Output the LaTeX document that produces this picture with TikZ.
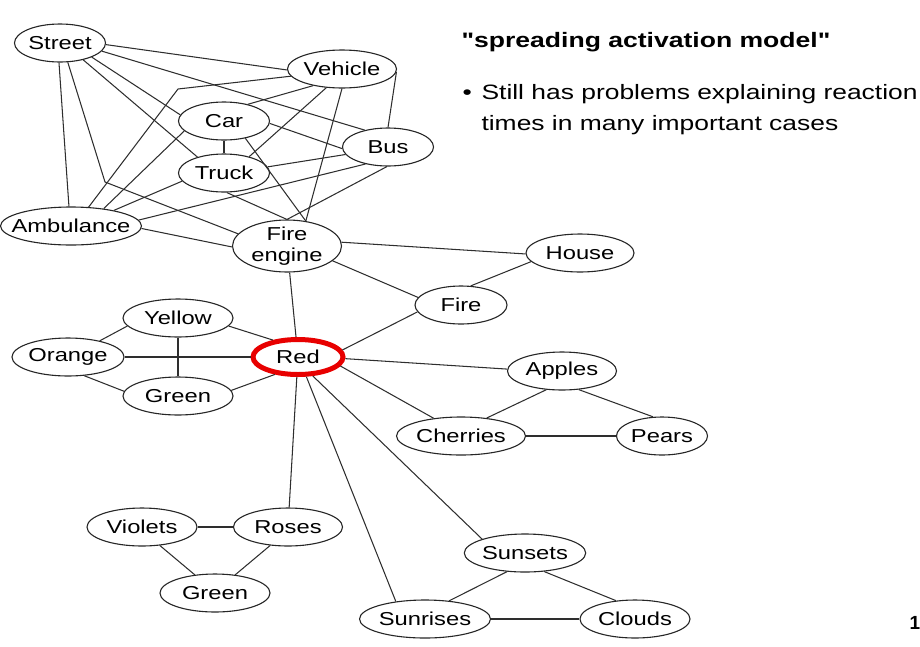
\documentclass[tikz,border=0pt]{standalone}
\usepackage{fontspec}
\setmainfont{Liberation Sans}
\newfontfamily\widefont{Liberation Sans}[FakeStretch=1.27]
\usepackage{xcolor}
\usetikzlibrary{shapes.geometric}
\definecolor{focusred}{RGB}{232,0,0}

\begin{document}
\begin{tikzpicture}[
  x=1pt, y=-1pt,
  concept/.style={ellipse, draw=black!85, line width=1.1pt, fill=white,
    inner sep=0pt, minimum height=38pt, minimum width=#1, align=center,
    font=\widefont\fontsize{18.7}{21}\selectfont},
  concept/.default=110pt,
  link/.style={draw=black!82, line width=1.05pt},
  slide/.style={anchor=base west, font=\widefont\fontsize{20.8}{25}\selectfont}
]
\useasboundingbox (0,0) rectangle (920,646);

\node[concept=91pt] (street) at (60,43) {Street};
\node[concept=109pt] (vehicle) at (342,69) {Vehicle};
\node[concept=91pt] (car) at (224,121) {Car};
\node[concept=91pt] (bus) at (388,147) {Bus};
\node[concept=91pt] (truck) at (224,173) {Truck};
\node[concept=141pt, inner xsep=-11pt] (ambulance) at (71,226) {Ambulance};
\node[concept=109pt, minimum height=52pt, inner ysep=-2pt] (fireengine) at (287,246) {Fire\\engine};
\node[concept=108pt] (house) at (580,253) {House};
\node[concept=92pt] (fire) at (461,305) {Fire};
\node[concept] (yellow) at (178,318) {Yellow};
\node[concept] (orange) at (68,357) {Orange};
\node[concept] (green) at (178,396) {Green};
\node[concept=90pt, minimum height=35pt, draw=focusred, line width=5pt] (red) at (298,357) {Red};
\node[concept=109pt] (apples) at (562,371) {Apples};
\node[concept=129pt] (cherries) at (461,436) {Cherries};
\node[concept=91pt] (pears) at (662,436) {Pears};
\node[concept] (violets) at (142,527) {Violets};
\node[concept=109pt] (roses) at (288,527) {Roses};
\node[concept] (greenb) at (215,593) {Green};
\node[concept] (sunsets) at (525,553) {Sunsets};
\node[concept=131pt] (sunrises) at (425,619) {Sunrises};
\node[concept] (clouds) at (635,619) {Clouds};

\coordinate (bendA) at (105,182);
\coordinate (bendB) at (178,89);

\draw[link] (street.-2) -- (vehicle.181);
\draw[link] (street.-11) -- (bus.144);
\draw[link] (street.-24) -- (car.172);
\draw[link] (street.-36) -- (truck.149);
\draw[link] (street.-68) -- (bendA) -- (fireengine.166);
\draw[link] (street.-93) -- (ambulance.96);
\draw[link] (vehicle.188) -- (bendB) -- (ambulance.47);
\draw[link] (vehicle.210) -- (car.35);
\draw[link] (vehicle.230) -- (truck.33);
\draw[link] (vehicle.270) -- (fireengine.53);
\draw[link] (vehicle.-3) -- (bus.90);
\draw[link] (car) -- (truck);
\draw[link] (car.-3) -- (bus.182);
\draw[link] (car.-39) -- (fireengine.53);
\draw[link] (car.194) -- (ambulance.28);
\draw[link] (truck.8) -- (bus.190);
\draw[link] (truck.191) -- (ambulance.20);
\draw[link] (truck.278) -- (fireengine.90);
\draw[link] (bus.217) -- (ambulance.5);
\draw[link] (bus.267) -- (fireengine.90);
\draw[link] (ambulance.-2) -- (fireengine.181);
\draw[link] (fireengine.4) -- (house.181);
\draw[link] (fireengine.-18) -- (fire.170);
\draw[link] (fireengine) -- (red);
\draw[link] (fire.63) -- (house.190);
\draw[link] (fire.189) -- (red.9);
\draw[link] (red.-2) -- (apples.178);
\draw[link] (red.-12) -- (cherries.147);
\draw[link] (red.-52) -- (sunsets.162);
\draw[link] (red.-67) -- (sunrises.149);
\draw[link] (red) -- (roses);
\draw[link] (red.146) -- (yellow.-9);
\draw[link] (red) -- (orange);
\draw[link] (red.217) -- (green.6);
\draw[link] (yellow.189) -- (orange.27);
\draw[link] (yellow) -- (green);
\draw[link] (orange.-49) -- (green.175);
\draw[link] (apples.230) -- (cherries.35);
\draw[link] (apples.-48) -- (pears.115);
\draw[link] (cherries) -- (pears);
\draw[link] (violets) -- (roses);
\draw[link] (violets.-46) -- (greenb.138);
\draw[link] (roses.226) -- (greenb.42);
\draw[link] (sunsets.226) -- (sunrises.37);
\draw[link] (sunsets.-44) -- (clouds.136);
\draw[link] (sunrises) -- (clouds);

\node[slide, font=\widefont\fontsize{20.9}{25}\selectfont\bfseries] (heading) at (458,47) {"spreading activation model"};
\node[slide] (bullet) at (459,99) {\textbullet};
\node[slide] (pointa) at (478,99) {Still has problems explaining reaction};
\node[slide] (pointb) at (478,130) {times in many important cases};
\node[slide, font=\fontsize{19}{23}\selectfont\bfseries] (pagenum) at (906,629) {1};
\end{tikzpicture}
\end{document}
